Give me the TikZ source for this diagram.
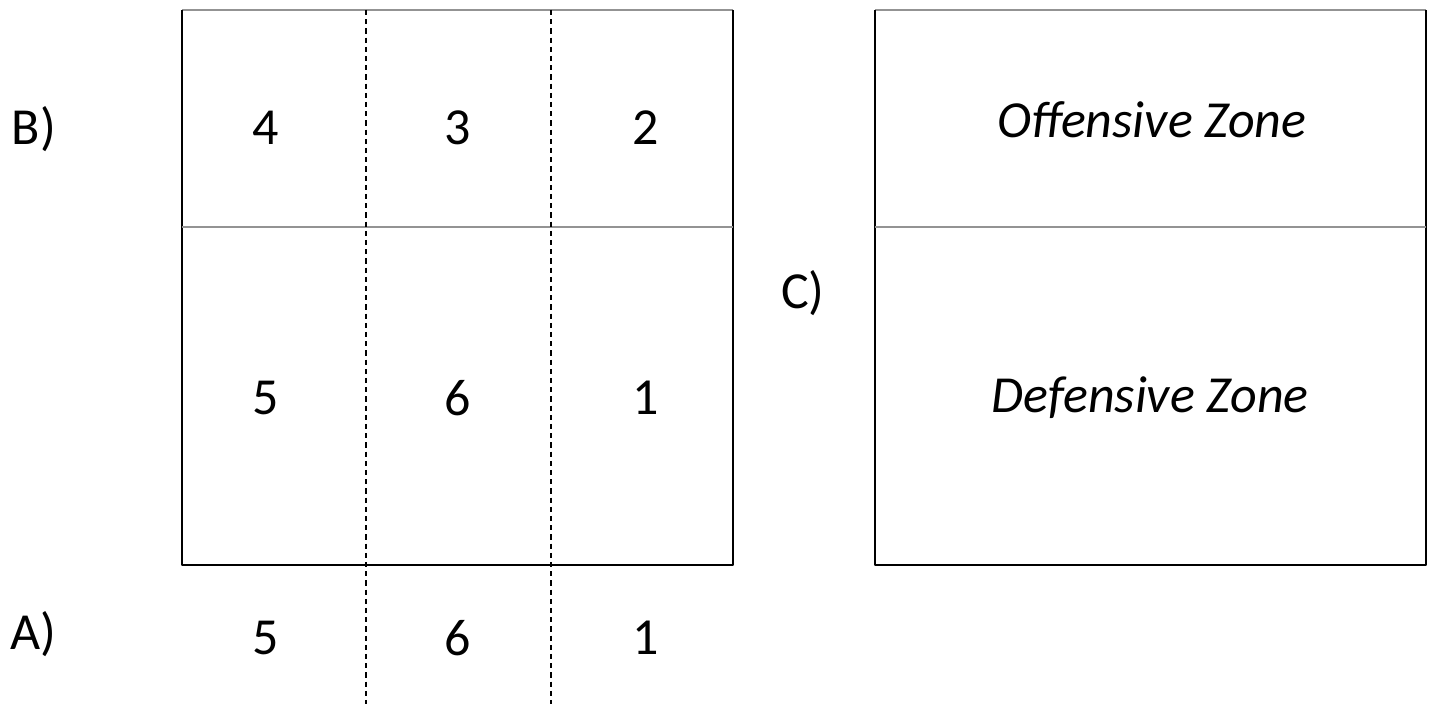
\documentclass[tikz,border=0pt]{standalone}
\usepackage{fontspec}
\setmainfont{Carlito}
\begin{document}
\begin{tikzpicture}[x=0.5pt,y=-0.5pt,
  lbl/.style={font=\fontsize{26}{30}\selectfont, inner sep=0pt},
  zone/.style={font=\fontsize{26}{30}\selectfont\itshape, inner sep=0pt},
  side/.style={line width=1.3pt, black, line join=round},
  divider/.style={line width=1.3pt, gray!85},
  split/.style={line width=1.4pt, black, dash pattern=on 2.6pt off 2pt}]
\useasboundingbox (0,0) rectangle (1430,704);
\fill[white] (0,0) rectangle (1430,704);

% left field with six zones
\coordinate (lt) at (182,10);
\coordinate (rt) at (733,10);
\coordinate (lb) at (182,565);
\coordinate (rb) at (733,565);
\draw[divider] (lt) -- (rt);
\draw[side] (rt) -- (rb) -- (lb) -- (lt);
\coordinate (ml) at (182,227);
\coordinate (mr) at (733,227);
\draw[divider] (ml) -- (mr);
\coordinate (d1t) at (366,10);
\coordinate (d1b) at (366,704);
\coordinate (d2t) at (551,10);
\coordinate (d2b) at (551,704);
\draw[split] (d1t) -- (d1b);
\draw[split] (d2t) -- (d2b);

% right field with the two zones
\coordinate (Lt) at (875,10);
\coordinate (Rt) at (1426,10);
\coordinate (Lb) at (875,565);
\coordinate (Rb) at (1426,565);
\draw[divider] (Lt) -- (Rt);
\draw[side] (Rt) -- (Rb) -- (Lb) -- (Lt);
\coordinate (Ml) at (875,227);
\coordinate (Mr) at (1426,227);
\draw[divider] (Ml) -- (Mr);

% panel labels
\node[lbl] (labB) at (34,129) {B)};
\node[lbl] (labA) at (33,634) {A)};
\node[lbl] (labC) at (803,293) {C)};

% zone numbers
\node[lbl] (z4) at (266,128) {4};
\node[lbl] (z3) at (458,128) {3};
\node[lbl] (z2) at (646,128) {2};
\node[lbl] (z5) at (266,398) {5};
\node[lbl] (z6) at (458,398) {6};
\node[lbl] (z1) at (646,398) {1};
\node[lbl] (a5) at (266,638) {5};
\node[lbl] (a6) at (458,638) {6};
\node[lbl] (a1) at (646,638) {1};

% zone names
\node[zone] (off) at (1152,120) {Offensive Zone};
\node[zone] (def) at (1150,398) {Defensive Zone};
\end{tikzpicture}
\end{document}
